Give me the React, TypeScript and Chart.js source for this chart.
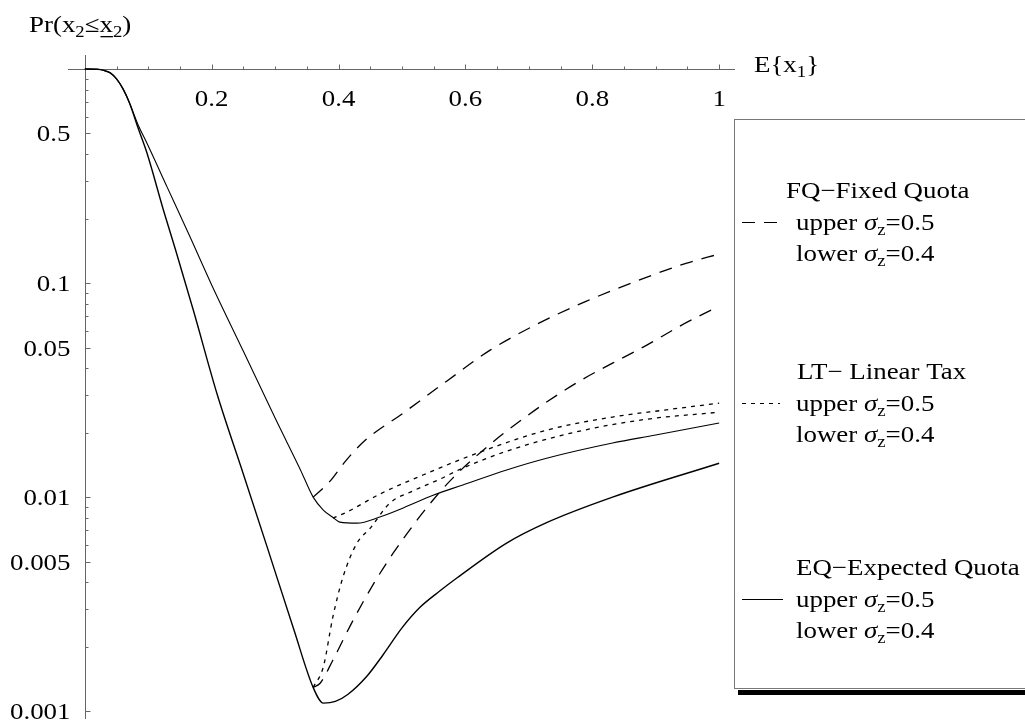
import { useEffect, useRef } from "react";
import { Chart, registerables } from "chart.js";
Chart.register(...registerables);

// ---------- data ----------
const eqUpperX = [0, 0.02, 0.03, 0.04, 0.05, 0.06, 0.07, 0.085, 0.098, 0.13, 0.166, 0.2, 0.25, 0.3, 0.34, 0.36, 0.376, 0.392, 0.402, 0.429, 0.465, 0.502, 0.549, 0.596, 0.665, 0.728, 0.832, 0.9, 1.0];
const eqUpperY = [1.0, 0.997, 0.985, 0.96, 0.9, 0.81, 0.7, 0.54, 0.45, 0.28, 0.164, 0.098, 0.048, 0.0234, 0.0134, 0.01, 0.0087, 0.008, 0.00764, 0.00756, 0.00807, 0.0089, 0.0102, 0.0114, 0.0134, 0.0152, 0.0179, 0.0195, 0.0222];

const eqLowerX = [0, 0.02, 0.03, 0.04, 0.05, 0.06, 0.07, 0.085, 0.098, 0.124, 0.143, 0.171, 0.209, 0.25, 0.287, 0.33, 0.36, 0.376, 0.395, 0.415, 0.445, 0.47, 0.5, 0.528, 0.56, 0.587, 0.665, 0.728, 0.832, 1.0];
const eqLowerY = [1.0, 0.997, 0.985, 0.96, 0.9, 0.81, 0.7, 0.52, 0.405, 0.219, 0.143, 0.0748, 0.03, 0.0128, 0.0059, 0.00238, 0.00129, 0.00109, 0.00111, 0.0012, 0.00146, 0.00183, 0.00245, 0.00305, 0.00365, 0.0042, 0.0061, 0.0076, 0.01, 0.0144];

const fqUpperX = [0.36, 0.387, 0.41, 0.439, 0.502, 0.571, 0.639, 0.713, 0.791, 0.87, 0.949, 1.0];
const fqUpperY = [0.01, 0.0119, 0.0146, 0.0181, 0.0247, 0.0349, 0.0486, 0.0643, 0.0824, 0.1022, 0.124, 0.1366];

const fqLowerX = [0.36, 0.371, 0.391, 0.423, 0.454, 0.486, 0.524, 0.549, 0.58, 0.643, 0.686, 0.728, 0.78, 0.832, 0.886, 0.938, 1.0];
const fqLowerY = [0.00129, 0.00135, 0.00173, 0.00266, 0.00388, 0.00547, 0.00782, 0.00969, 0.01227, 0.01807, 0.02266, 0.0278, 0.03485, 0.04227, 0.05129, 0.06294, 0.07816];

const ltUpperX = [0.391, 0.413, 0.465, 0.544, 0.623, 0.728, 0.832, 0.914, 1.0];
const ltUpperY = [0.00798, 0.00851, 0.01033, 0.01309, 0.01623, 0.02055, 0.02366, 0.02551, 0.02748];

const ltLowerX = [0.36, 0.376, 0.391, 0.407, 0.429, 0.45, 0.481, 0.517, 0.56, 0.596, 0.675, 0.78, 0.886, 1.0];
const ltLowerY = [0.00129, 0.00161, 0.00275, 0.00423, 0.00609, 0.00716, 0.00938, 0.01067, 0.01214, 0.01367, 0.01676, 0.02033, 0.02312, 0.02492];

const xTickLabels = ["0.2", "0.4", "0.6", "0.8", "1"];
const xMinorTicks = [0.05, 0.1, 0.15, 0.2, 0.25, 0.3, 0.35, 0.4, 0.45, 0.5, 0.55, 0.6, 0.65, 0.7, 0.75, 0.8, 0.85, 0.9, 0.95, 1.0];
const yTickLabels = ["0.001", "0.005", "0.01", "0.05", "0.1", "0.5"];
const yMinorTicks = [
  0.001, 0.002, 0.003, 0.004, 0.005, 0.006, 0.007, 0.008, 0.009,
  0.01, 0.02, 0.03, 0.04, 0.05, 0.06, 0.07, 0.08, 0.09,
  0.1, 0.2, 0.3, 0.4, 0.5, 0.6, 0.7, 0.8, 0.9,
];

// ---------- text helpers ----------
const FONT = '"Liberation Serif", "Times New Roman", serif';
const FS = 23;
const SX = 1.17;
type Run = { t: string; it?: boolean; sub?: boolean; ul?: boolean };

function runFont(r: Run) {
  const size = r.sub ? 16 : FS;
  return `${r.it ? "italic " : ""}${size}px ${FONT}`;
}
function runsWidth(ctx: CanvasRenderingContext2D, runs: Run[]) {
  let w = 0;
  for (const r of runs) {
    ctx.font = runFont(r);
    w += ctx.measureText(r.t).width * SX;
  }
  return w;
}
function drawRuns(ctx: CanvasRenderingContext2D, runs: Run[], x: number, y: number) {
  let cx = x;
  ctx.fillStyle = "#000";
  ctx.textBaseline = "alphabetic";
  ctx.textAlign = "left";
  for (const r of runs) {
    ctx.font = runFont(r);
    const w = ctx.measureText(r.t).width * SX;
    const dy = r.sub ? 5 : 0;
    ctx.save();
    ctx.translate(cx, y + dy);
    ctx.scale(SX, 1);
    ctx.fillText(r.t, 0, 0);
    ctx.restore();
    if (r.ul) ctx.fillRect(cx + 1, y + 4, w - 1, 1.3);
    cx += w;
  }
  return cx - x;
}

function pts(xs: number[], ys: number[]) {
  return xs.map((x, i) => ({ x, y: ys[i] }));
}

const axesPlugin = {
  id: "mathAxes",
  beforeDatasetsDraw(chart: any) {
    const { ctx, chartArea, scales } = chart;
    const xs = scales.x;
    const ys = scales.y;
    const y0 = Math.round(ys.getPixelForValue(1)) + 0.5;
    const x0 = Math.round(xs.getPixelForValue(0)) + 0.5;
    ctx.save();
    ctx.strokeStyle = "#666";
    ctx.lineWidth = 1;
    ctx.beginPath();
    ctx.moveTo(chartArea.left, y0);
    ctx.lineTo(chartArea.right, y0);
    ctx.moveTo(x0, chartArea.top);
    ctx.lineTo(x0, chartArea.bottom);
    for (const v of xMinorTicks) {
      const px = Math.round(xs.getPixelForValue(v)) + 0.5;
      const major = Math.abs(v * 5 - Math.round(v * 5)) < 1e-6;
      ctx.moveTo(px, y0);
      ctx.lineTo(px, y0 - (major ? 5 : 3));
    }
    for (const v of yMinorTicks) {
      const py = Math.round(ys.getPixelForValue(v)) + 0.5;
      const major = yTickLabels.includes(String(v)) || [0.001, 0.01, 0.1].includes(v);
      ctx.moveTo(x0, py);
      ctx.lineTo(x0 + (major ? 5 : 3), py);
    }
    ctx.stroke();

    // tick labels
    for (const lab of xTickLabels) {
      const px = xs.getPixelForValue(parseFloat(lab));
      const runs = [{ t: lab }];
      const w = runsWidth(ctx, runs);
      drawRuns(ctx, runs, px - w / 2, y0 + 36);
    }
    for (const lab of yTickLabels) {
      const py = ys.getPixelForValue(parseFloat(lab));
      const runs = [{ t: lab }];
      const w = runsWidth(ctx, runs);
      drawRuns(ctx, runs, x0 - 15 - w, py + 8);
    }
    // axis titles
    drawRuns(ctx, [{ t: "Pr(x" }, { t: "2", sub: true }, { t: "\u2264" }, { t: "x", ul: true }, { t: "2", sub: true }, { t: ")" }], 29, 32);
    drawRuns(ctx, [{ t: "E{x" }, { t: "1", sub: true }, { t: "}" }], 754, 72);
    ctx.restore();
  },
};

const legendGroups = [
  { title: "FQ\u2212Fixed Quota", tx: 786, base: 198, dash: [13, 9] },
  { title: "LT\u2212 Linear Tax", tx: 797, base: 379, dash: [4, 5] },
  { title: "EQ\u2212Expected Quota", tx: 796, base: 575, dash: [] as number[] },
];

const legendPlugin = {
  id: "mathLegend",
  afterDraw(chart: any) {
    const { ctx } = chart;
    ctx.save();
    ctx.fillStyle = "#fff";
    ctx.fillRect(734, 119, 300, 570);
    ctx.strokeStyle = "#777";
    ctx.lineWidth = 1;
    ctx.strokeRect(734.5, 119.5, 400, 569);
    ctx.fillStyle = "#000";
    ctx.fillRect(738, 690, 300, 5);
    for (const g of legendGroups) {
      drawRuns(ctx, [{ t: g.title }], g.tx, g.base);
      drawRuns(ctx, [{ t: "upper " }, { t: "\u03c3", it: true }, { t: "z", sub: true }, { t: "=0.5" }], 796, g.base + 32);
      drawRuns(ctx, [{ t: "lower " }, { t: "\u03c3", it: true }, { t: "z", sub: true }, { t: "=0.4" }], 796, g.base + 63);
      const sy = g.base + 32 - 7.5;
      ctx.strokeStyle = "#000";
      ctx.lineWidth = 1.2;
      ctx.setLineDash(g.dash);
      ctx.beginPath();
      ctx.moveTo(742, sy);
      ctx.lineTo(g.dash.length ? 780 : 783, sy);
      ctx.stroke();
      ctx.setLineDash([]);
    }
    ctx.restore();
  },
};

export default function App() {
  const ref = useRef<HTMLCanvasElement | null>(null);
  useEffect(() => {
    if (!ref.current) return;
    const common = {
      borderColor: "#000",
      borderWidth: 1.3,
      pointRadius: 0,
      fill: false,
      cubicInterpolationMode: "monotone" as const,
    };
    const chart = new Chart(ref.current, {
      type: "line",
      data: {
        datasets: [
          { ...common, label: "FQ upper", data: pts(fqUpperX, fqUpperY), borderDash: [13, 9] },
          { ...common, label: "FQ lower", data: pts(fqLowerX, fqLowerY), borderDash: [13, 9] },
          { ...common, label: "LT upper", data: pts(ltUpperX, ltUpperY), borderDash: [4, 5] },
          { ...common, label: "LT lower", data: pts(ltLowerX, ltLowerY), borderDash: [4, 5] },
          { ...common, label: "EQ upper", data: pts(eqUpperX, eqUpperY), borderWidth: 1.1 },
          { ...common, label: "EQ lower", data: pts(eqLowerX, eqLowerY), borderWidth: 1.4 },
        ],
      },
      options: {
        animation: false,
        responsive: false,
        layout: { padding: { left: 68, right: 290, top: 55, bottom: 5 } },
        plugins: { legend: { display: false }, tooltip: { enabled: false } },
        scales: {
          x: { type: "linear", min: -0.0265, max: 1.025, display: false },
          y: { type: "logarithmic", min: 0.000919, max: 1.163, display: false },
        },
      },
      plugins: [axesPlugin, legendPlugin],
    });
    return () => chart.destroy();
  }, []);
  return (
    <div style={{ position: "absolute", left: 0, top: 0, width: 1025, height: 724, background: "#fff" }}>
      <canvas ref={ref} width={1025} height={724} style={{ display: "block", width: 1025, height: 724 }} />
    </div>
  );
}
